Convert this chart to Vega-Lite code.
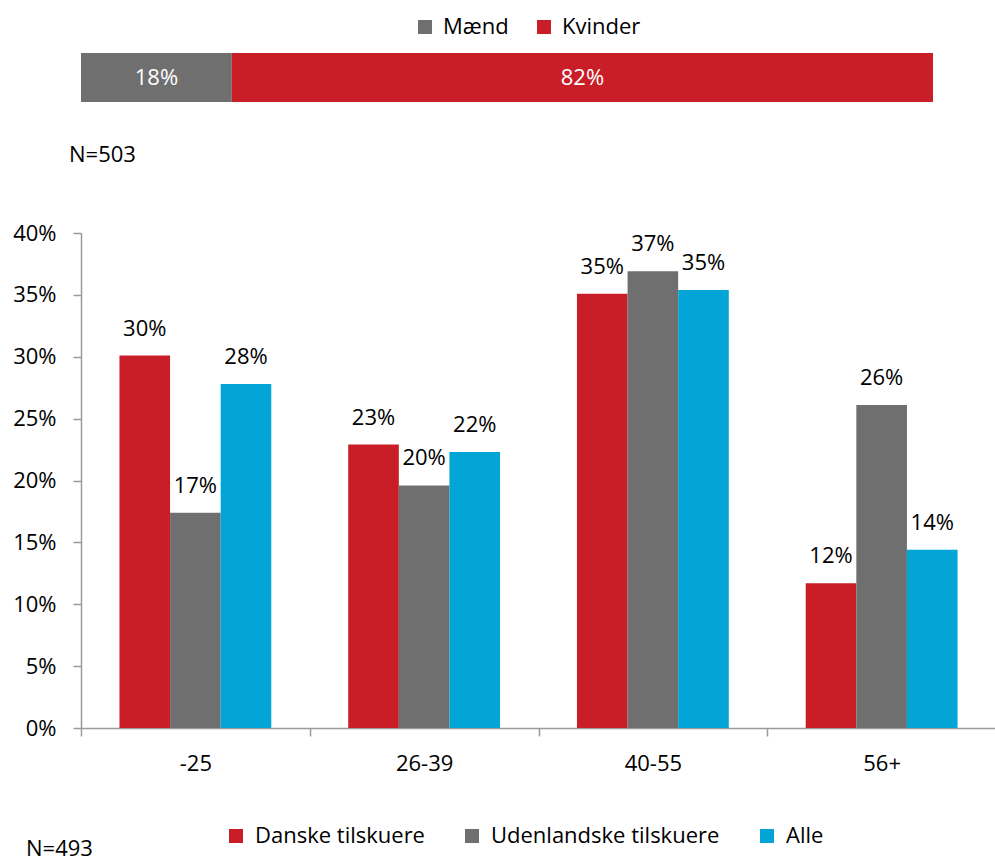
{
  "$schema": "https://vega.github.io/schema/vega-lite/v6.json",
  "background": "white",
  "padding": {"left": 12, "top": 16, "right": 0, "bottom": 6},
  "config": {
    "view": {"stroke": null},
    "font": "Open Sans",
    "title": {"font": "Open Sans", "fontSize": 22, "fontWeight": "normal", "color": "#000000"},
    "legend": {"labelFont": "Open Sans", "labelColor": "#000000", "labelLimit": 0},
    "axis": {"labelFont": "Open Sans", "labelColor": "#000000"}
  },
  "spacing": 56,
  "resolve": {
    "scale": {"color": "independent", "x": "independent", "y": "independent"},
    "legend": {"color": "independent"}
  },
  "vconcat": [
    {
      "width": 852,
      "height": 49,
      "data": {"values": [
        {"gender": "Mænd", "share": 0.177},
        {"gender": "Kvinder", "share": 0.823}
      ]},
      "title": {"text": "N=503", "orient": "bottom", "anchor": "start", "frame": "group", "dx": -12, "offset": 43},
      "transform": [
        {"stack": "share", "groupby": [], "sort": [{"field": "gender", "order": "descending"}], "as": ["s0", "s1"]},
        {"calculate": "(datum.s0 + datum.s1) / 2", "as": "mid"}
      ],
      "encoding": {
        "y": {"datum": "Køn", "type": "nominal", "axis": null, "scale": {"paddingInner": 0, "paddingOuter": 0}}
      },
      "layer": [
        {
          "mark": {"type": "bar"},
          "encoding": {
            "x": {"field": "s0", "type": "quantitative", "scale": {"domain": [0, 1]}, "axis": null},
            "x2": {"field": "s1"},
            "color": {
              "field": "gender", "type": "nominal",
              "scale": {"domain": ["Mænd", "Kvinder"], "range": ["#6F6F6F", "#C91D27"]},
              "legend": {
                "orient": "none", "legendX": 333, "legendY": -37, "direction": "horizontal",
                "title": null, "symbolType": "square", "symbolSize": 196, "symbolStrokeWidth": 0,
                "labelFontSize": 22, "columnPadding": 24, "labelOffset": 7
              }
            }
          }
        },
        {
          "mark": {"type": "text", "color": "white", "fontSize": 22, "baseline": "middle"},
          "encoding": {
            "x": {"field": "mid", "type": "quantitative"},
            "text": {"field": "share", "type": "quantitative", "format": ".0%"}
          }
        }
      ]
    },
    {
      "width": 915,
      "height": 495,
      "data": {"values": [
        {"age": "-25", "group": "Danske tilskuere", "value": 0.301},
        {"age": "-25", "group": "Udenlandske tilskuere", "value": 0.174},
        {"age": "-25", "group": "Alle", "value": 0.278},
        {"age": "26-39", "group": "Danske tilskuere", "value": 0.229},
        {"age": "26-39", "group": "Udenlandske tilskuere", "value": 0.196},
        {"age": "26-39", "group": "Alle", "value": 0.223},
        {"age": "40-55", "group": "Danske tilskuere", "value": 0.351},
        {"age": "40-55", "group": "Udenlandske tilskuere", "value": 0.369},
        {"age": "40-55", "group": "Alle", "value": 0.354},
        {"age": "56+", "group": "Danske tilskuere", "value": 0.117},
        {"age": "56+", "group": "Udenlandske tilskuere", "value": 0.261},
        {"age": "56+", "group": "Alle", "value": 0.144}
      ]},
      "title": {"text": "N=493", "orient": "bottom", "anchor": "start", "frame": "group", "dx": -55, "offset": -8},
      "encoding": {
        "x": {
          "field": "age", "type": "nominal", "sort": ["-25", "26-39", "40-55", "56+"],
          "scale": {"paddingInner": 0, "paddingOuter": 0},
          "axis": {
            "title": null, "labelAngle": 0, "tickBand": "extent", "labelFontSize": 22,
            "labelPadding": 17, "tickSize": 8, "domainColor": "#9A9A9A", "tickColor": "#9A9A9A",
            "domainWidth": 1.5, "tickWidth": 1.5
          }
        },
        "xOffset": {
          "field": "group", "type": "nominal",
          "sort": ["Danske tilskuere", "Udenlandske tilskuere", "Alle"],
          "scale": {"paddingInner": 0, "paddingOuter": 0.76}
        },
        "y": {
          "field": "value", "type": "quantitative", "scale": {"domain": [0, 0.4]},
          "axis": {
            "title": null, "format": ".0%", "values": [0, 0.05, 0.1, 0.15, 0.2, 0.25, 0.3, 0.35, 0.4],
            "grid": false, "labelFontSize": 22, "labelPadding": 17, "tickSize": 8,
            "domainColor": "#9A9A9A", "tickColor": "#9A9A9A", "domainWidth": 1.5, "tickWidth": 1.5
          }
        }
      },
      "layer": [
        {
          "mark": {"type": "bar"},
          "encoding": {
            "color": {
              "field": "group", "type": "nominal",
              "scale": {"domain": ["Danske tilskuere", "Udenlandske tilskuere", "Alle"], "range": ["#C91D27", "#6F6F6F", "#02A5D5"]},
              "legend": {
                "orient": "none", "legendX": 144, "legendY": 592, "direction": "horizontal",
                "title": null, "symbolType": "square", "symbolSize": 196, "symbolStrokeWidth": 0,
                "labelFontSize": 22, "columnPadding": 36, "labelOffset": 8
              }
            }
          }
        },
        {
          "mark": {"type": "text", "dy": -27, "fontSize": 22, "baseline": "middle", "color": "#000000"},
          "encoding": {
            "text": {"field": "value", "type": "quantitative", "format": ".0%"}
          }
        }
      ]
    }
  ]
}
